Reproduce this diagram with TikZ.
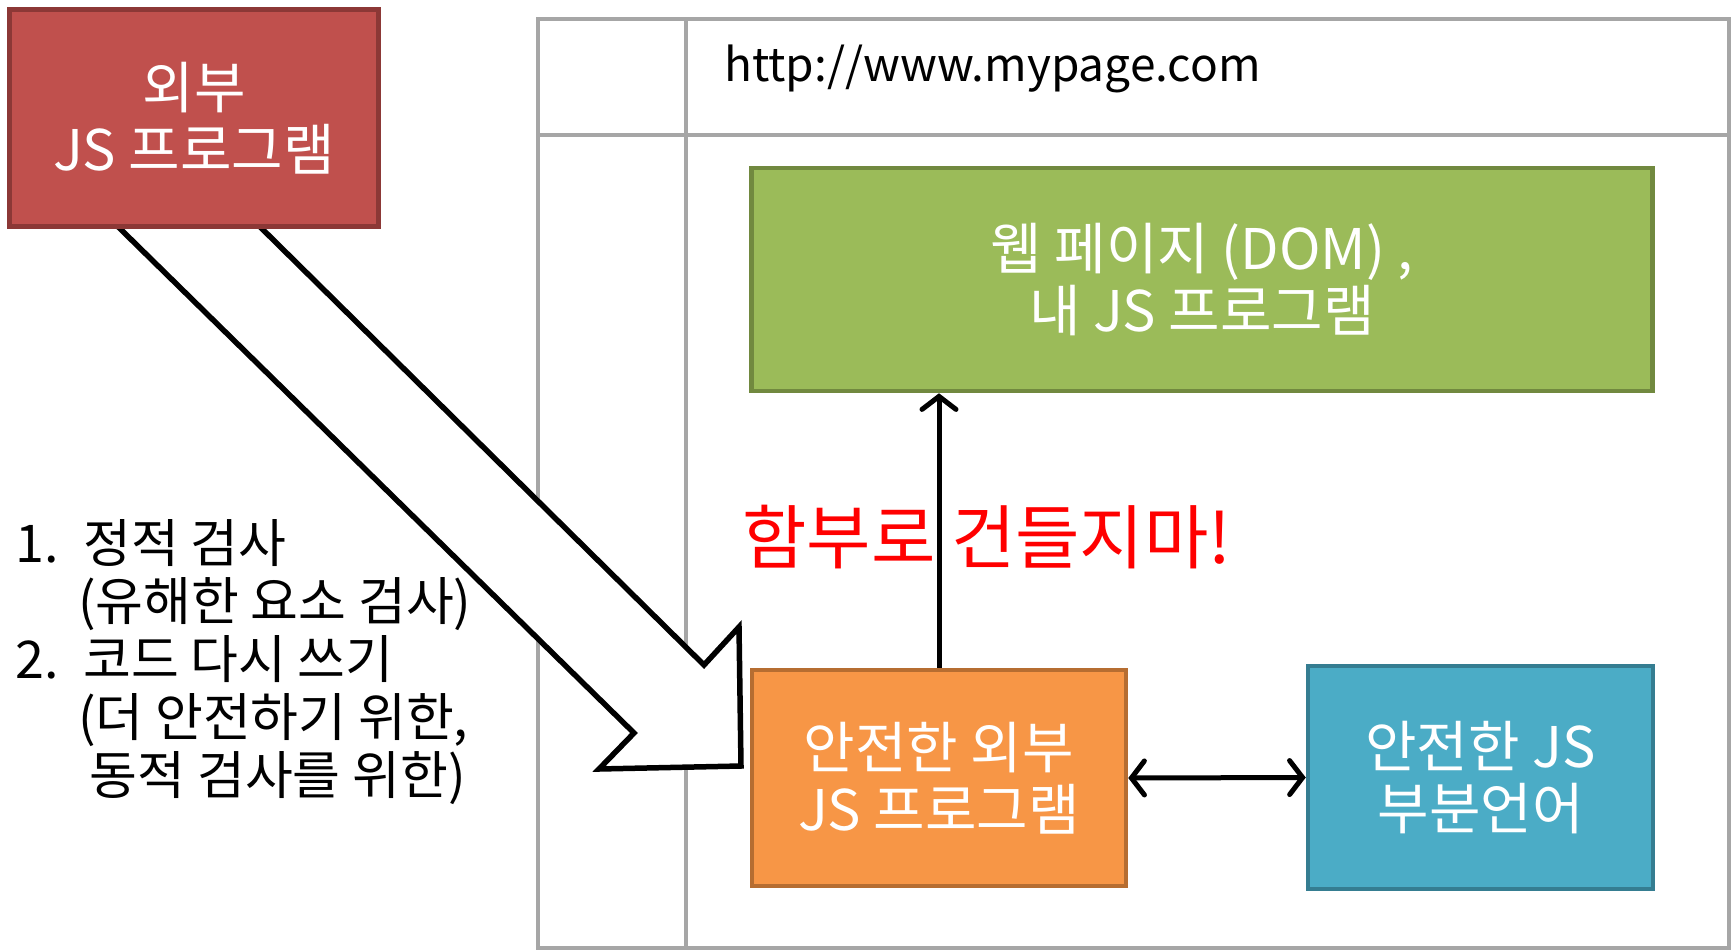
\documentclass[tikz,border=0pt]{standalone}
\usepackage{fontspec}
\setmainfont{Noto Sans CJK KR}
\usetikzlibrary{arrows.meta}
\definecolor{redfill}{HTML}{C0504D}
\definecolor{redline}{HTML}{8C3836}
\definecolor{greenfill}{HTML}{9BBB59}
\definecolor{greenline}{HTML}{71893F}
\definecolor{orangefill}{HTML}{F79646}
\definecolor{orangeline}{HTML}{B66D31}
\definecolor{bluefill}{HTML}{4BACC6}
\definecolor{blueline}{HTML}{357D91}
\definecolor{framegray}{HTML}{A6A6A6}
\begin{document}
\begin{tikzpicture}[x=1pt,y=-1pt,
  frameline/.style={draw=framegray, line width=4pt},
  colbox/.style={rectangle, line width=4.5pt, text=white, align=center, inner sep=0pt,
    font=\fontsize{56}{62}\selectfont},
  conn/.style={line width=5pt, draw=black, -{Straight Barb[length=13pt,width=34pt,line cap=round]}},
  dconn/.style={line width=5pt, draw=black, {Straight Barb[length=13pt,width=34pt,line cap=round]}-{Straight Barb[length=13pt,width=34pt,line cap=round]}},
  blockarrow/.style={draw=black, fill=white, line width=5.5pt, line join=miter},
  listtext/.style={anchor=west, align=left, inner sep=0pt, font=\fontsize{52}{58}\selectfont}
]
\useasboundingbox (0,0) rectangle (1736,950);
\fill[white] (0,0) rectangle (1736,950);

% browser frame
\draw[frameline] (538,19) rectangle (1729,948);
\draw[frameline] (538,135) -- (1729,135);
\draw[frameline] (686,19) -- (686,948);
\node[anchor=west, inner sep=0pt, font=\fontsize{46}{54}\selectfont] (url) at (724,69) {http://www.mypage.com};

% big block arrow
\draw[blockarrow] (98,207) -- (634,733) -- (599,769) -- (741,766) -- (739,627) -- (704,665) -- (240,207) -- cycle;

% boxes
\node[colbox, fill=redfill, draw=redline, minimum width=369pt, minimum height=217pt] (ext) at (194,118) {외부\\JS 프로그램};
\node[colbox, fill=greenfill, draw=greenline, minimum width=901pt, minimum height=223pt] (page) at (1202,279.5) {웹 페이지 (DOM) ,\\내 JS 프로그램};
\node[colbox, fill=orangefill, draw=orangeline, minimum width=374pt, minimum height=216pt] (safe) at (939,778) {안전한 외부\\JS 프로그램};
\node[colbox, fill=bluefill, draw=blueline, minimum width=345pt, minimum height=223pt] (sub) at (1480.5,777.5) {안전한 JS\\부분언어};

% connectors
\draw[conn] (safe.north) -- (safe.north |- page.south);
\draw[dconn] (safe.east) -- (sub.west);

% warning text
\node[anchor=west, inner sep=0pt, text=red, font=\fontsize{70}{80}\selectfont] (warn) at (742,537) {함부로 건들지마!};

% list
\node[listtext] (steps) at (15,662) {%
\makebox[68pt][l]{1.}정적 검사\\
\makebox[63pt][l]{}(유해한 요소 검사)\\
\makebox[68pt][l]{2.}코드 다시 쓰기\\
\makebox[63pt][l]{}(더 안전하기 위한,\\
\makebox[63pt][l]{}\ 동적 검사를 위한)};
\end{tikzpicture}
\end{document}
